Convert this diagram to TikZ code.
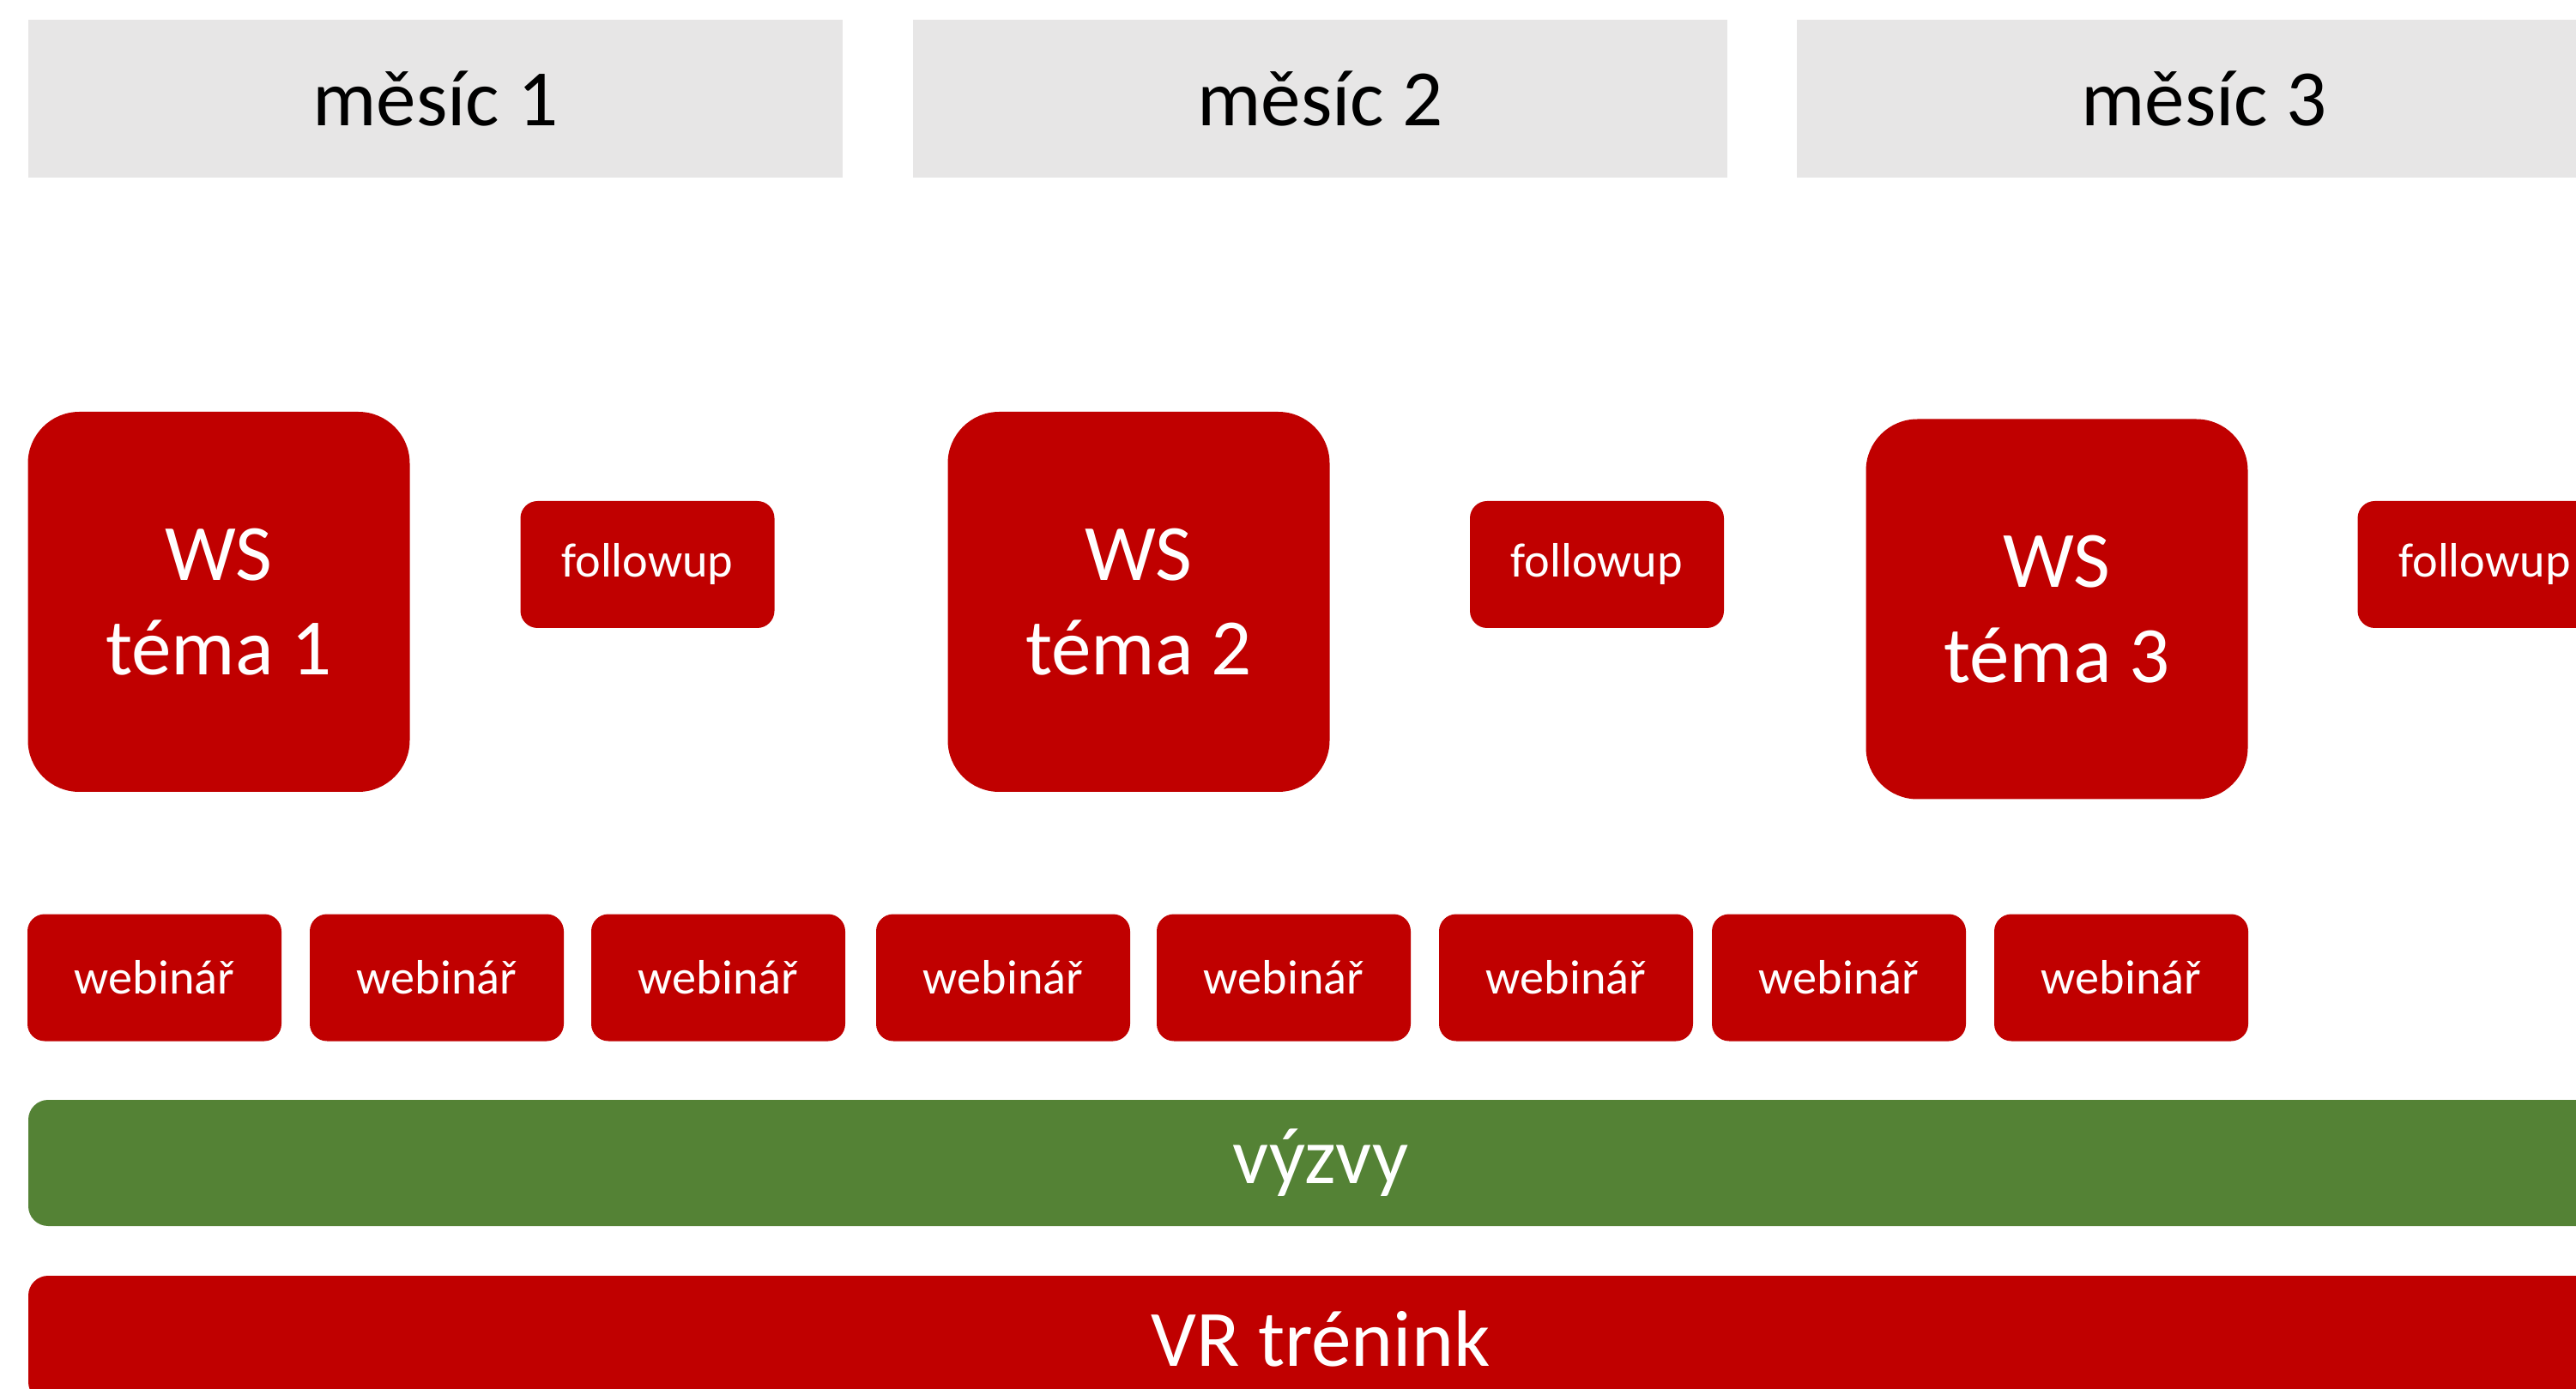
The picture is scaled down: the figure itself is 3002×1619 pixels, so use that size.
\documentclass[tikz,border=0pt]{standalone}
\usepackage{fontspec}
\setmainfont{Carlito}
\definecolor{wsred}{RGB}{192,0,0}
\definecolor{callgreen}{RGB}{84,130,53}
\definecolor{monthgray}{RGB}{231,230,230}

\begin{document}
\begin{tikzpicture}[x=0.1mm, y=-0.1mm,
  month/.style={fill=monthgray, inner sep=0pt, minimum width=94.9mm, minimum height=18.4mm,
    font=\fontsize{26.5}{32}\selectfont},
  ws/.style={fill=wsred, text=white, rounded corners=6mm, inner sep=0pt, align=center,
    minimum width=44.5mm, minimum height=44.3mm, font=\fontsize{26.5}{31.5}\selectfont},
  smallbox/.style={fill=wsred, text=white, rounded corners=2mm, inner sep=0pt,
    minimum width=29.6mm, minimum height=14.8mm, font=\fontsize{16}{19}\selectfont},
  bar/.style={text=white, rounded corners=2.3mm, inner sep=0pt,
    minimum width=301.2mm, minimum height=14.7mm, font=\fontsize{26.5}{32}\selectfont}]
  \useasboundingbox (0,0) rectangle (3002,1619);
  \clip (0,0) rectangle (3002,1619);
  % Months
  \node[month] (m1) at (507.5,115) {měsíc 1};
  \node[month] (m2) at (1538.5,115) {měsíc 2};
  \node[month] (m3) at (2568.5,115) {měsíc 3};
  % Workshops and followups
  \node[ws] (ws1) at (255,701.5) {WS\\téma 1};
  \node[ws] (ws2) at (1327,701.5) {WS\\téma 2};
  \node[ws] (ws3) at (2397,710) {WS\\téma 3};
  \node[smallbox] (fu1) at (754.5,658) {followup};
  \node[smallbox] (fu2) at (1861,658) {followup};
  \node[smallbox] (fu3) at (2895.5,658) {followup};
  % Webinars
  \foreach \x [count=\i] in {180,509,837,1169,1496,1825,2143,2472}
    \node[smallbox] (web\i) at (\x,1139.5) {webinář};
  % Bars
  \node[bar, fill=callgreen] (vyzvy) at (1539,1355.5) {výzvy};
  \node[bar, fill=wsred] (vr) at (1539,1560.5) {VR trénink};
\end{tikzpicture}
\end{document}
